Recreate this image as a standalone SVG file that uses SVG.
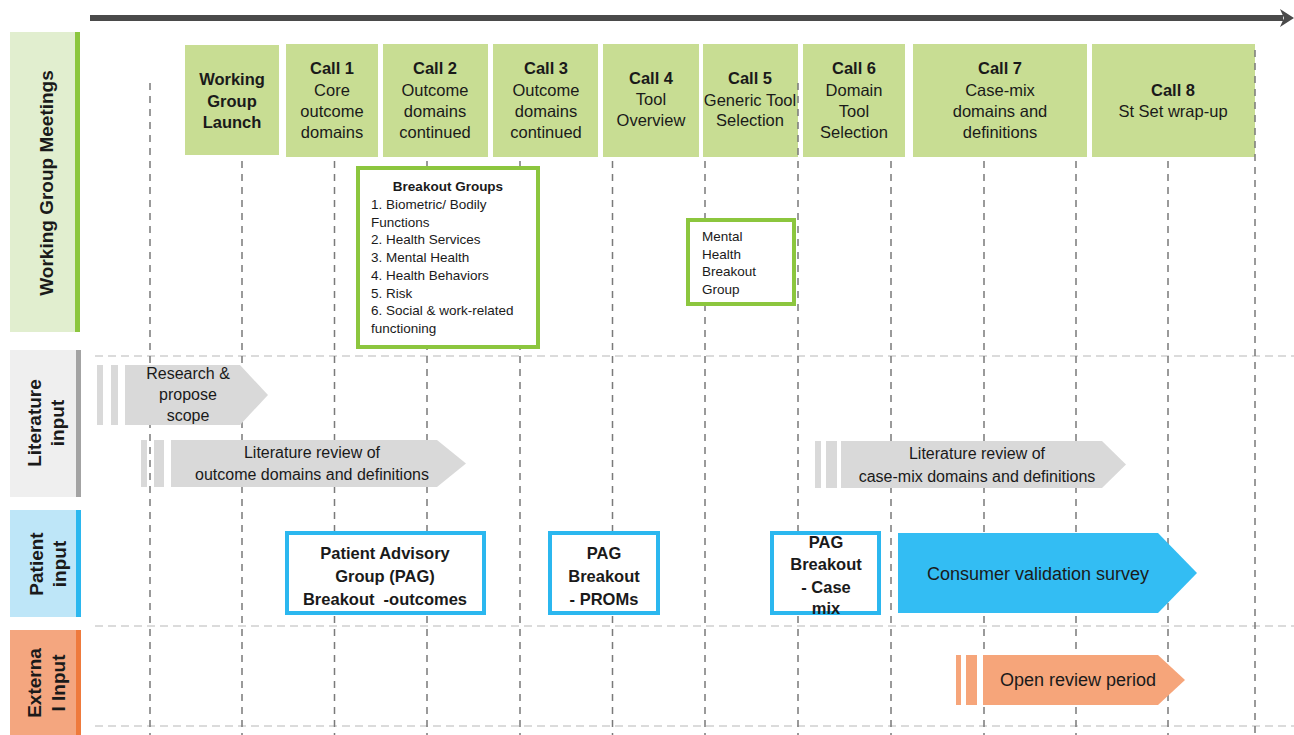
<svg xmlns="http://www.w3.org/2000/svg" width="1294" height="735" viewBox="0 0 1294 735">
<style>
text{font-family:"Liberation Sans","Open Sans",sans-serif;fill:#1a1a1a}
.hdr{fill:#c8dd93}
.ht{font-size:16.5px;text-anchor:middle}
.b{font-weight:bold}
.vd{stroke:#7a7a7a;stroke-width:1.5;stroke-dasharray:7,6}
.hd{stroke:#cfcfcf;stroke-width:1.5;stroke-dasharray:8,5}
.gbox{fill:#fff;stroke:#8cc63e;stroke-width:4}
.bbox{fill:#fff;stroke:#2bb7ef;stroke-width:4}
.gray{fill:#d9d9d9}
.sm{font-size:13.5px}
.lbl{font-size:19px;font-weight:bold;text-anchor:middle}
.pt{font-size:16.5px;font-weight:bold;text-anchor:middle}
.lt{font-size:16px;text-anchor:middle}
</style>

<!-- timeline arrow -->
<g id="timeline">
<line x1="90" y1="18" x2="1283" y2="18" stroke="#4a4a4a" stroke-width="6"/>
<polygon points="1280,9 1294,18 1280,27 1284,18" fill="#4a4a4a"/>
</g>

<!-- grid -->
<g id="grid">
<line class="hd" x1="95" y1="356" x2="1294" y2="356"/>
<line class="hd" x1="95" y1="626" x2="1294" y2="626"/>
<line class="hd" x1="95" y1="726" x2="1294" y2="726"/>
<line class="vd" x1="150" y1="83" x2="150" y2="735"/>
<line class="vd" x1="242" y1="83" x2="242" y2="735"/>
<line class="vd" x1="334.5" y1="83" x2="334.5" y2="735"/>
<line class="vd" x1="427" y1="83" x2="427" y2="735"/>
<line class="vd" x1="520" y1="83" x2="520" y2="735"/>
<line class="vd" x1="612.5" y1="83" x2="612.5" y2="735"/>
<line class="vd" x1="705" y1="83" x2="705" y2="735"/>
<line class="vd" x1="891" y1="83" x2="891" y2="735"/>
<line class="vd" x1="984" y1="83" x2="984" y2="735"/>
<line class="vd" x1="1076" y1="83" x2="1076" y2="735"/>
<line class="vd" x1="1168" y1="83" x2="1168" y2="735"/>
</g>

<!-- row labels -->
<g id="row-working">
<rect x="10" y="32" width="68" height="300" fill="#e1eecf"/>
<rect x="75" y="32" width="5" height="300" fill="#8cc63e"/>
<text class="lbl" transform="translate(53,183) rotate(-90)">Working Group Meetings</text>
</g>
<g id="row-literature">
<rect x="10" y="350" width="70" height="147" fill="#efefef"/>
<rect x="76" y="350" width="5" height="147" fill="#a3a3a3"/>
<text class="lbl" transform="translate(41,423) rotate(-90)">Literature</text>
<text class="lbl" transform="translate(64,423) rotate(-90)">input</text>
</g>
<g id="row-patient">
<rect x="10" y="510" width="70" height="107" fill="#bee6f8"/>
<rect x="76" y="510" width="5" height="107" fill="#2bb7ef"/>
<text class="lbl" transform="translate(43,564) rotate(-90)">Patient</text>
<text class="lbl" transform="translate(66,564) rotate(-90)">input</text>
</g>
<g id="row-external">
<rect x="10" y="630" width="70" height="105" fill="#f4a67f"/>
<rect x="76" y="630" width="5" height="105" fill="#ef7a3c"/>
<text class="lbl" transform="translate(41,683) rotate(-90)">Externa</text>
<text class="lbl" transform="translate(65,683) rotate(-90)">l Input</text>
</g>

<!-- header boxes -->
<g id="launch">
<rect class="hdr" x="185" y="45" width="94" height="110"/>
<text class="ht b" x="232" y="85">Working</text>
<text class="ht b" x="232" y="107">Group</text>
<text class="ht b" x="232" y="128">Launch</text>
</g>
<g id="call1">
<rect class="hdr" x="286" y="44" width="92" height="113"/>
<text class="ht b" x="332" y="74">Call 1</text>
<text class="ht" x="332" y="96">Core</text>
<text class="ht" x="332" y="117">outcome</text>
<text class="ht" x="332" y="138">domains</text>
</g>
<g id="call2">
<rect class="hdr" x="383" y="44" width="105" height="113"/>
<text class="ht b" x="435" y="74">Call 2</text>
<text class="ht" x="435" y="96">Outcome</text>
<text class="ht" x="435" y="117">domains</text>
<text class="ht" x="435" y="138">continued</text>
</g>
<g id="call3">
<rect class="hdr" x="493" y="44" width="105" height="113"/>
<text class="ht b" x="546" y="74">Call 3</text>
<text class="ht" x="546" y="96">Outcome</text>
<text class="ht" x="546" y="117">domains</text>
<text class="ht" x="546" y="138">continued</text>
</g>
<g id="call4">
<rect class="hdr" x="603" y="44" width="96" height="113"/>
<text class="ht b" x="651" y="84">Call 4</text>
<text class="ht" x="651" y="105">Tool</text>
<text class="ht" x="651" y="126">Overview</text>
</g>
<g id="call5">
<rect class="hdr" x="703" y="44" width="95" height="113"/>
<text class="ht b" x="750" y="84">Call 5</text>
<text class="ht" x="750" y="106">Generic Tool</text>
<text class="ht" x="750" y="126">Selection</text>
</g>
<g id="call6">
<rect class="hdr" x="803" y="44" width="102" height="113"/>
<text class="ht b" x="854" y="74">Call 6</text>
<text class="ht" x="854" y="96">Domain</text>
<text class="ht" x="854" y="117">Tool</text>
<text class="ht" x="854" y="138">Selection</text>
</g>
<g id="call7">
<rect class="hdr" x="913" y="44" width="174" height="113"/>
<text class="ht b" x="1000" y="74">Call 7</text>
<text class="ht" x="1000" y="96">Case-mix</text>
<text class="ht" x="1000" y="117">domains and</text>
<text class="ht" x="1000" y="138">definitions</text>
</g>
<g id="call8">
<rect class="hdr" x="1092" y="44" width="163" height="113"/>
<text class="ht b" x="1173" y="96">Call 8</text>
<text class="ht" x="1173" y="117">St Set wrap-up</text>
</g>

<!-- lines drawn over header edges -->
<g id="grid-over">
<line class="vd" x1="798" y1="83" x2="798" y2="735"/>
<line class="vd" x1="1255" y1="50" x2="1255" y2="735"/>
</g>

<!-- breakout groups -->
<g id="breakout-groups">
<rect class="gbox" x="358" y="168" width="180" height="179"/>
<text class="sm b" x="448" y="191" text-anchor="middle">Breakout Groups</text>
<text class="sm" x="371" y="209">1. Biometric/ Bodily</text>
<text class="sm" x="371" y="227">Functions</text>
<text class="sm" x="371" y="244">2. Health Services</text>
<text class="sm" x="371" y="262">3. Mental Health</text>
<text class="sm" x="371" y="280">4. Health Behaviors</text>
<text class="sm" x="371" y="298">5. Risk</text>
<text class="sm" x="371" y="315">6. Social &amp; work-related</text>
<text class="sm" x="371" y="333">functioning</text>
</g>
<g id="mental-health">
<rect class="gbox" x="688" y="220" width="106" height="84"/>
<text class="sm" x="702" y="241">Mental</text>
<text class="sm" x="702" y="259">Health</text>
<text class="sm" x="702" y="276">Breakout</text>
<text class="sm" x="702" y="294">Group</text>
</g>

<!-- literature arrows -->
<g id="research-scope">
<rect class="gray" x="97" y="365" width="6" height="60"/>
<rect class="gray" x="111" y="365" width="7" height="60"/>
<polygon class="gray" points="125,365 240,365 268,395 240,425 125,425"/>
<text class="lt" x="188" y="379">Research &amp;</text>
<text class="lt" x="188" y="400">propose</text>
<text class="lt" x="188" y="421">scope</text>
</g>
<g id="lit-review-outcome">
<rect class="gray" x="141" y="440" width="6" height="47"/>
<rect class="gray" x="154" y="440" width="10" height="47"/>
<polygon class="gray" points="171,440 437,440 466,463.5 437,487 171,487"/>
<text class="lt" x="312" y="458">Literature review of</text>
<text class="lt" x="312" y="480">outcome domains and definitions</text>
</g>
<g id="lit-review-casemix">
<rect class="gray" x="815" y="441" width="6" height="47"/>
<rect class="gray" x="826" y="441" width="11" height="47"/>
<polygon class="gray" points="841,441 1102,441 1126,464.5 1102,488 841,488"/>
<text class="lt" x="977" y="459">Literature review of</text>
<text class="lt" x="977" y="482">case-mix domains and definitions</text>
</g>

<!-- patient input -->
<g id="pag-outcomes">
<rect class="bbox" x="287" y="533" width="197" height="80"/>
<text class="pt" x="385" y="559">Patient Advisory</text>
<text class="pt" x="385" y="582">Group (PAG)</text>
<text class="pt" x="385" y="605" xml:space="preserve">Breakout  -outcomes</text>
</g>
<g id="pag-proms">
<rect class="bbox" x="550" y="533" width="108" height="80"/>
<text class="pt" x="604" y="559">PAG</text>
<text class="pt" x="604" y="582">Breakout</text>
<text class="pt" x="604" y="605">- PROMs</text>
</g>
<g id="pag-casemix">
<rect class="bbox" x="772" y="533" width="107" height="80"/>
<text class="pt" x="826" y="548">PAG</text>
<text class="pt" x="826" y="570">Breakout</text>
<text class="pt" x="826" y="593">- Case</text>
<text class="pt" x="826" y="614">mix</text>
</g>
<g id="consumer-survey">
<polygon points="898,533 1158,533 1197,573 1158,613 898,613" fill="#33bdf3"/>
<text x="1038" y="580" font-size="18" text-anchor="middle">Consumer validation survey</text>
</g>

<!-- external input -->
<g id="open-review">
<rect x="956" y="655" width="5" height="50" fill="#f6a57a"/>
<rect x="966" y="655" width="11" height="50" fill="#f6a57a"/>
<polygon points="983,655 1158,655 1185,680 1158,705 983,705" fill="#f6a57a"/>
<text x="1078" y="686" font-size="18" text-anchor="middle">Open review period</text>
</g>
</svg>
